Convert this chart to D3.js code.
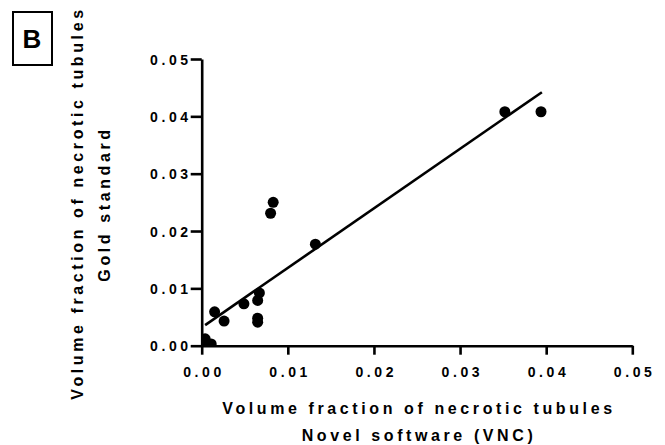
<!DOCTYPE html>
<html><head><meta charset="utf-8">
<script src="https://cdn.jsdelivr.net/npm/d3@7"></script>
<style>body{margin:0;background:#fff}svg{display:block}text{font-family:"Liberation Sans",Arial,sans-serif;font-weight:bold;fill:#000}</style>
</head><body>
<svg id="c" width="665" height="445"></svg>
<script>
const xValues = [0.0004,0.0011,0.0001,0.0015,0.0026,0.0049,0.0067,0.0065,0.0065,0.0065,0.0083,0.0080,0.0132,0.0352,0.0394];
const yValues = [0.0012,0.0003,0.0005,0.0059,0.0043,0.0073,0.0092,0.0079,0.0048,0.0041,0.0250,0.0231,0.0177,0.0408,0.0408];
const fitX = [0.0004,0.0395];
const fitY = [0.0036,0.0442];
const xTicks = [0,0.01,0.02,0.03,0.04,0.05];
const yTicks = [0,0.01,0.02,0.03,0.04,0.05];
const xTitle = ["Volume fraction of necrotic tubules","Novel software (VNC)"];
const yTitle = ["Volume fraction of necrotic tubules","Gold standard"];
const panel = "B";

const svg = d3.select("#c");
const x = d3.scaleLinear().domain([0,0.05]).range([201.7,632.3]);
const y = d3.scaleLinear().domain([0,0.05]).range([345.7,59]);

svg.append("defs").append("clipPath").attr("id","clip")
  .append("rect").attr("x",201.7).attr("y",0).attr("width",460).attr("height",345.7);

const g = svg.append("g").attr("clip-path","url(#clip)");
g.selectAll("circle").data(xValues).join("circle")
  .attr("cx",(d)=>x(d)).attr("cy",(d,i)=>y(yValues[i])).attr("r",5.5).attr("fill","#000");

svg.append("line").attr("x1",x(fitX[0])).attr("y1",y(fitY[0])).attr("x2",x(fitX[1])).attr("y2",y(fitY[1]))
  .attr("stroke","#000").attr("stroke-width",2.6);

const fmt = d3.format(".2f");
const xa = svg.append("g").attr("transform","translate(0,345.7)")
  .call(d3.axisBottom(x).tickValues(xTicks).tickSize(9).tickSizeOuter(0).tickFormat(fmt));
const ya = svg.append("g").attr("transform","translate(201.7,0)")
  .call(d3.axisLeft(y).tickValues(yTicks).tickSize(11).tickSizeOuter(0).tickFormat(fmt));
[xa,ya].forEach(a=>{
  a.select(".domain").attr("stroke","#000").attr("stroke-width",2.6);
  a.selectAll(".tick line").attr("stroke","#000").attr("stroke-width",2.6);
  a.selectAll(".tick text").style("font-size","14px").style("letter-spacing","3.6px")
   .style("font-family","'Liberation Sans',Arial,sans-serif").style("font-weight","bold").attr("fill","#000");
});
xa.selectAll(".tick text").attr("y",21).attr("dy","0.71em").attr("dx",1.8);
ya.selectAll(".tick text").attr("x",-10).attr("dx",0).attr("dy","0.36em");

svg.append("text").attr("x",419).attr("y",414).attr("text-anchor","middle")
  .style("font-size","16px").style("letter-spacing","3.6px").text(xTitle[0]);
svg.append("text").attr("x",419).attr("y",441).attr("text-anchor","middle")
  .style("font-size","16px").style("letter-spacing","3.6px").text(xTitle[1]);

svg.append("text").attr("transform","translate(83,203) rotate(-90)").attr("text-anchor","middle")
  .style("font-size","16px").style("letter-spacing","3.6px").text(yTitle[0]);
svg.append("text").attr("transform","translate(110,204) rotate(-90)").attr("text-anchor","middle")
  .style("font-size","16px").style("letter-spacing","3.6px").text(yTitle[1]);

svg.append("rect").attr("x",13).attr("y",12).attr("width",39).attr("height",53)
  .attr("fill","none").attr("stroke","#000").attr("stroke-width",2);
svg.append("text").attr("x",32).attr("y",48).attr("text-anchor","middle").style("font-size","26px").text(panel);
</script>
</body></html>
